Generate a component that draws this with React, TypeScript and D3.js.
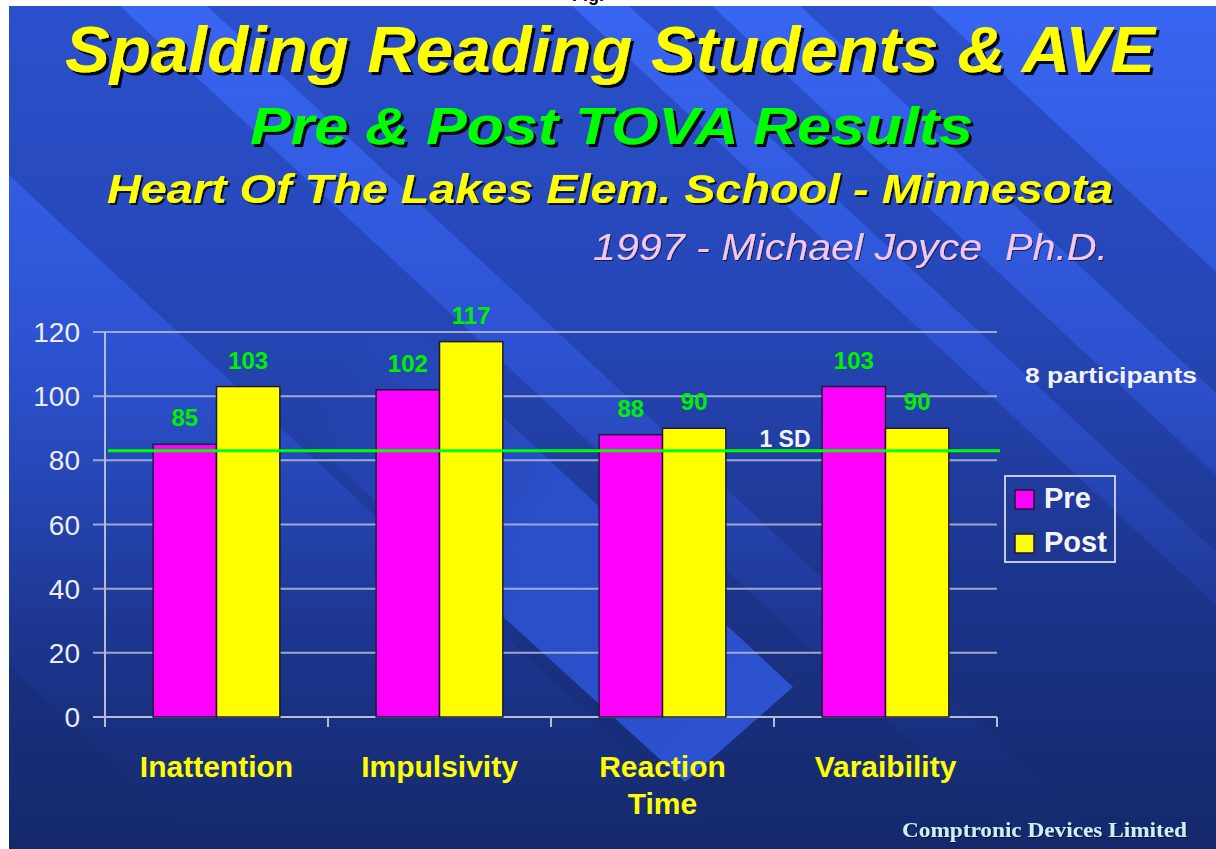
import React from 'react';
import * as d3 from 'd3';

// chart values
const categories = ['Inattention', 'Impulsivity', 'Reaction Time', 'Varaibility'];
const categoryLines = [['Inattention'], ['Impulsivity'], ['Reaction', 'Time'], ['Varaibility']];
const seriesNames = ['Pre', 'Post'];
const preValues = [85, 102, 88, 103];
const postValues = [103, 117, 90, 90];
const yTicks = [0, 20, 40, 60, 80, 100, 120];
const sdValue = 83;
const sdLabel = '1 SD';
const note = '8 participants';
const credit = 'Comptronic Devices Limited';

const W = 1216;
const H = 849;
const panel = { x: 9, y: 6 };
const plot = { left: 105, right: 997, top: 332, bottom: 717 };
const seriesColors = ['#ff00ff', '#ffff00'];
const sans = '"Liberation Sans", Arial, Helvetica, sans-serif';
const serif = '"Liberation Serif", "Times New Roman", serif';

const x = d3.scaleBand().domain(categories).range([plot.left, plot.right]);
const inner = d3.scaleBand().domain(seriesNames).range([0, x.bandwidth()]).paddingOuter(0.76);
const y = d3.scaleLinear().domain([0, 120]).range([plot.bottom, plot.top]);

// diagonal ribbons of the slide template: x where each edge meets the top, slope dy/dx
const k = 0.93;
const ribbons = [
  [-700, -173],
  [120, 207],
  [572, 629],
  [712, 800],
  [930, 1500],
];

const at = (x0: number, yy: number) => x0 + (yy - panel.y) / k;
function ribbon(a: number, b: number) {
  return `M${at(a, panel.y)},${panel.y}L${at(b, panel.y)},${panel.y}L${at(b, H)},${H}L${at(a, H)},${H}Z`;
}
// the big ribbon that ends square, bottom centre
const arrowPath = `M${at(-160, 380)},380L685,782L793,687L${at(61, 250)},250Z`;

const Title = ({ text, x0, yb, size, len, fill, weight, filter }: any) => (
  <text
    x={x0}
    y={yb}
    textLength={len}
    lengthAdjust="spacingAndGlyphs"
    fill={fill}
    fontFamily={sans}
    fontStyle="italic"
    fontWeight={weight}
    fontSize={size}
    filter={filter}
    style={{ whiteSpace: 'pre' }}
  >
    {text}
  </text>
);

export default function App() {
  const data = categories.map((c, i) => ({ c, values: [preValues[i], postValues[i]] }));
  const legendItems = seriesNames.map((s, i) => ({ s, color: seriesColors[i] }));

  return (
    <svg width={W} height={H} style={{ position: 'absolute', left: 0, top: 0, background: '#fff' }}>
      <defs>
        <linearGradient id="bg" x1="0" y1="0" x2="0" y2="1">
          <stop offset="0" stopColor="#2a50cc" />
          <stop offset="0.4" stopColor="#2545b4" />
          <stop offset="0.72" stopColor="#1b3388" />
          <stop offset="1" stopColor="#15286a" />
        </linearGradient>
        <linearGradient id="rib" x1="0" y1="0" x2="0" y2={H} gradientUnits="userSpaceOnUse">
          <stop offset="0" stopColor="#3d6dff" stopOpacity={0.75} />
          <stop offset="0.45" stopColor="#3560f0" stopOpacity={0.45} />
          <stop offset="0.75" stopColor="#3058e0" stopOpacity={0.1} />
          <stop offset="1" stopColor="#3058e0" stopOpacity={0} />
        </linearGradient>
        <linearGradient id="arrow" x1="330" y1="380" x2="740" y2="735" gradientUnits="userSpaceOnUse">
          <stop offset="0" stopColor="#2c52d0" stopOpacity={0} />
          <stop offset="0.45" stopColor="#2c52d0" stopOpacity={0.85} />
          <stop offset="1" stopColor="#2c52d0" stopOpacity={1} />
        </linearGradient>
        <filter id="sh3" x="-5%" y="-20%" width="110%" height="150%">
          <feDropShadow dx={3} dy={3} stdDeviation={0.6} floodColor="#000" floodOpacity={0.9} />
        </filter>
        <filter id="sh2" x="-5%" y="-20%" width="110%" height="150%">
          <feDropShadow dx={2} dy={2} stdDeviation={0.5} floodColor="#000" floodOpacity={0.8} />
        </filter>
        <filter id="sh1" x="-5%" y="-20%" width="110%" height="150%">
          <feDropShadow dx={1} dy={1} stdDeviation={0.5} floodColor="#000" floodOpacity={0.6} />
        </filter>
        <clipPath id="panel">
          <rect x={panel.x} y={panel.y} width={W - panel.x} height={H - panel.y} />
        </clipPath>
      </defs>

      <text x={572} y={1} fontFamily={sans} fontWeight="bold" fontSize={18} fill="#000">Fig.</text>

      <g clipPath="url(#panel)">
        <rect x={panel.x} y={panel.y} width={W - panel.x} height={H - panel.y} fill="url(#bg)" />
        {ribbons.map(([a, b], i) => (
          <path key={i} d={ribbon(a, b)} fill="url(#rib)" />
        ))}
        <path d={arrowPath} fill="url(#arrow)" />
      </g>

      <Title text="Spalding Reading Students & AVE" x0={65} yb={72} size={64} len={1090} fill="#ffff00" weight="bold" filter="url(#sh3)" />
      <Title text="Pre & Post TOVA Results" x0={250} yb={144} size={51} len={723} fill="#00ff00" weight="bold" filter="url(#sh3)" />
      <Title text="Heart Of The Lakes Elem. School - Minnesota" x0={107} yb={203} size={41} len={1006} fill="#ffff00" weight="bold" filter="url(#sh2)" />
      <Title text="1997 - Michael Joyce  Ph.D." x0={593} yb={260} size={37} len={515} fill="#f4c6ea" weight="normal" filter="url(#sh1)" />

      {/* grid + y axis */}
      <g stroke="#b4bad8" strokeWidth={2}>
        {yTicks.map((t) => (
          <line key={t} x1={plot.left - 12} x2={plot.right} y1={y(t)} y2={y(t)} opacity={t === 0 ? 1 : 0.85} />
        ))}
        <line x1={plot.left} x2={plot.left} y1={plot.top} y2={plot.bottom + 10} />
        {categories.map((c) => (
          <line key={c} x1={(x(c) as number) + x.bandwidth()} x2={(x(c) as number) + x.bandwidth()} y1={plot.bottom} y2={plot.bottom + 10} />
        ))}
      </g>
      <g fontFamily={sans} fontSize={28} fill="#eceef6" textAnchor="end">
        {yTicks.map((t) => (
          <text key={t} x={80} y={y(t)} dy="0.36em">{t}</text>
        ))}
      </g>

      {/* bars */}
      {data.map((d) => (
        <g key={d.c} transform={`translate(${x(d.c)},0)`}>
          {d.values.map((v, j) => (
            <g key={j}>
              <rect
                x={inner(seriesNames[j])}
                y={y(v)}
                width={inner.bandwidth()}
                height={y(0) - y(v)}
                fill={seriesColors[j]}
                stroke="#1a1a3a"
                strokeWidth={1.5}
              />
              <text
                x={(inner(seriesNames[j]) as number) + inner.bandwidth() / 2}
                y={y(v) - 18}
                textAnchor="middle"
                fontFamily={sans}
                fontWeight="bold"
                fontSize={24}
                fill="#00f000"
              >
                {v}
              </text>
            </g>
          ))}
        </g>
      ))}

      {/* 1 SD reference line */}
      <line x1={plot.left + 3} x2={plot.right + 3} y1={y(sdValue)} y2={y(sdValue)} stroke="#00ff00" strokeWidth={3} />
      <text x={785} y={447} textAnchor="middle" fontFamily={sans} fontWeight="bold" fontSize={23} fill="#f2f2f8">{sdLabel}</text>

      {/* category labels */}
      <g fontFamily={sans} fontWeight="bold" fontSize={30} fill="#ffff00" textAnchor="middle">
        {categories.map((c, i) => (
          <text key={c} x={(x(c) as number) + x.bandwidth() / 2} y={777}>
            {categoryLines[i].map((l, li) => (
              <tspan key={li} x={(x(c) as number) + x.bandwidth() / 2} dy={li === 0 ? 0 : 37}>{l}</tspan>
            ))}
          </text>
        ))}
      </g>

      <text x={1025} y={383} fontFamily={sans} fontWeight="bold" fontSize={22} fill="#f2f2f8" textLength={172} lengthAdjust="spacingAndGlyphs">{note}</text>

      {/* legend */}
      <g>
        <rect x={1005} y={476} width={110} height={86} fill="none" stroke="#c4c8e0" strokeWidth={2} />
        {legendItems.map((it, i) => (
          <g key={it.s} transform={`translate(1015,${490 + i * 44})`}>
            <rect width={19} height={19} fill={it.color} stroke="#1a1a3a" strokeWidth={1.5} />
            <text x={29} y={18} fontFamily={sans} fontWeight="bold" fontSize={29} fill="#f4f4f8">{it.s}</text>
          </g>
        ))}
      </g>

      <text x={902} y={837} fill="#cdeef8" fontFamily={serif} fontWeight="bold" fontSize={20} textLength={285} lengthAdjust="spacingAndGlyphs" filter="url(#sh1)">{credit}</text>
    </svg>
  );
}
